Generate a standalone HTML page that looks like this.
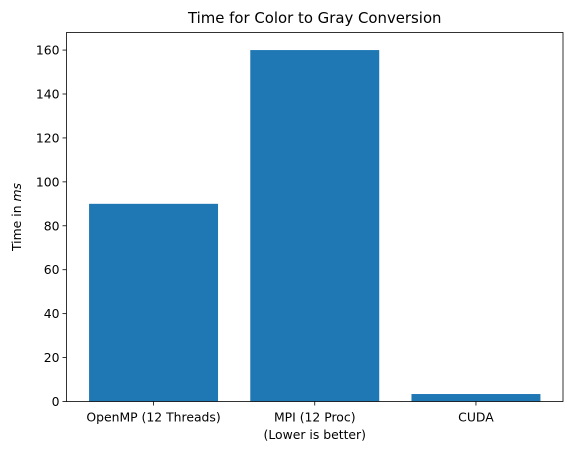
<!DOCTYPE html>
<html><head><meta charset="utf-8"><style>body{margin:0;background:#fff}svg{display:block;font-family:"DejaVu Sans","Liberation Sans",sans-serif}</style></head>
<body>
<svg id="chart" width="572" height="455" viewBox="0 0 572 455" xmlns="http://www.w3.org/2000/svg"></svg>
<script>
const categories = ["OpenMP (12 Threads)", "MPI (12 Proc)", "CUDA"];
const times = [90, 160, 3.4];
const yTicks = [0, 20, 40, 60, 80, 100, 120, 140, 160];

const L = 66.5, R = 563, T = 32.5, B = 401.5;
const xmin = -0.54, xmax = 2.54, ymax = 168;
const sx = v => L + (v - xmin) / (xmax - xmin) * (R - L);
const sy = v => B - v / ymax * (B - T);
const NS = "http://www.w3.org/2000/svg";
const svg = document.getElementById("chart");
function mk(tag, attrs, text) {
  const e = document.createElementNS(NS, tag);
  for (const k in attrs) e.setAttribute(k, attrs[k]);
  if (text !== undefined) e.textContent = text;
  svg.appendChild(e);
  return e;
}
categories.forEach((c, i) => {
  const r = mk("rect", {x: sx(i - 0.4), y: sy(times[i]), width: sx(i + 0.4) - sx(i - 0.4), height: B - sy(times[i]), fill: "#1f77b4"});
  
  
  const t = mk("line", {x1: sx(i), x2: sx(i), y1: B, y2: B + 4, stroke: "#000", "stroke-width": 0.8});
  
  
  const l = mk("text", {x: sx(i), y: B + 20, "text-anchor": "middle", "font-size": 12.4}, c);
  
  
});
yTicks.forEach(v => {
  const t = mk("line", {x1: L - 4, x2: L, y1: sy(v), y2: sy(v), stroke: "#000", "stroke-width": 0.8});
  
  
  const l = mk("text", {x: L - 7, y: sy(v) + 4.5, "text-anchor": "end", "font-size": 12.4}, v);
  
  
});
const f = mk("rect", {x: L, y: T, width: R - L, height: B - T, fill: "none", stroke: "#000", "stroke-width": 0.8});


const ti = mk("text", {x: (L + R) / 2, y: 23, "text-anchor": "middle", "font-size": 14.9}, "Time for Color to Gray Conversion");


const xl = mk("text", {x: (L + R) / 2, y: 439, "text-anchor": "middle", "font-size": 12.4}, "(Lower is better)");


const yl = mk("text", {x: 0, y: 0, "text-anchor": "middle", "font-size": 12.4, transform: `translate(21,${(T + B) / 2}) rotate(-90)`});


yl.innerHTML = 'Time in <tspan font-style="italic">ms</tspan>';
</script>
</body></html>
